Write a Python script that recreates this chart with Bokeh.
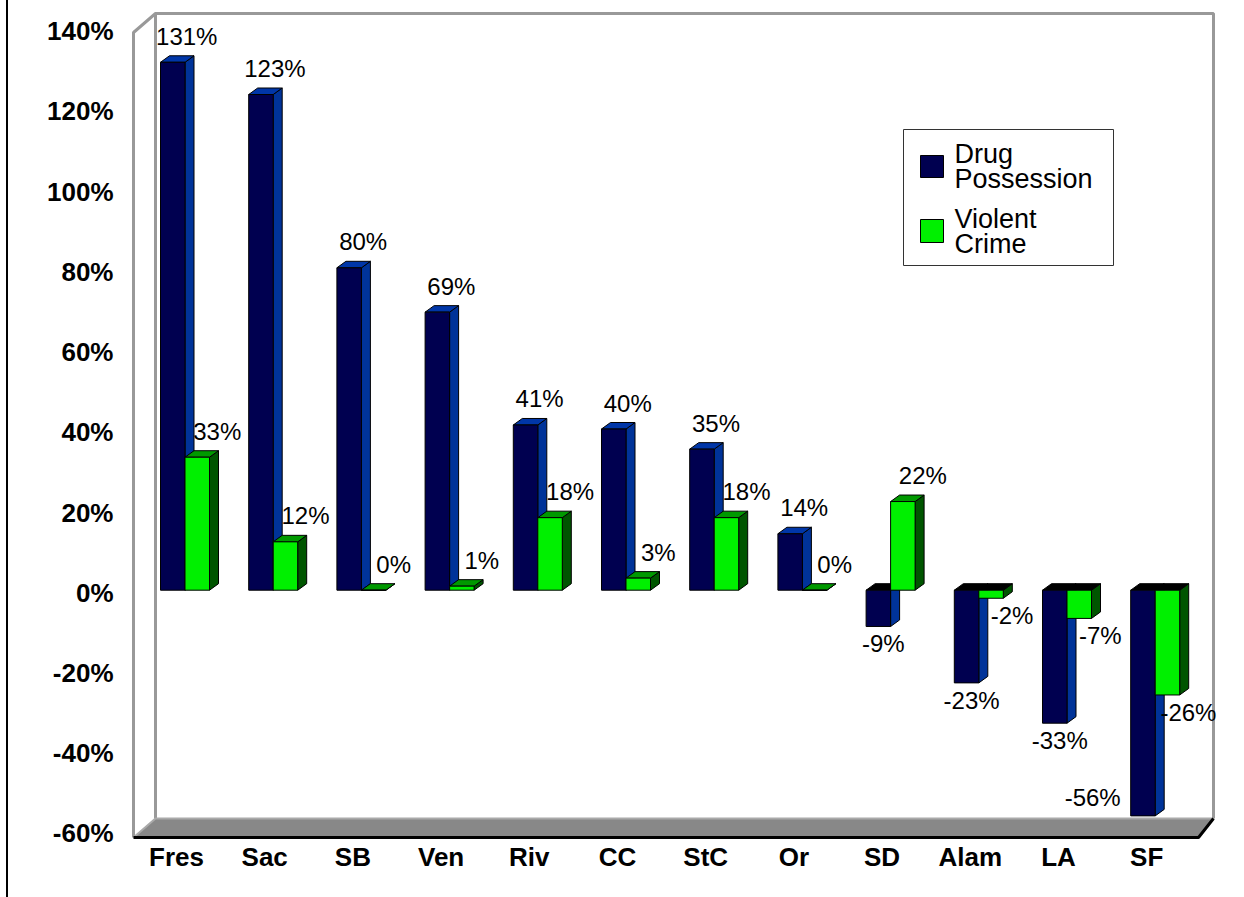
from bokeh.plotting import figure
from bokeh.models import (Range1d, LinearAxis, FixedTicker, ColumnDataSource,
                          PrintfTickFormatter)
from bokeh.core.properties import value
from bokeh.embed import file_html
from bokeh.resources import INLINE

# ---------------- data ----------------
categories = ["Fres", "Sac", "SB", "Ven", "Riv", "CC", "StC", "Or", "SD", "Alam", "LA", "SF"]
drug_possession = [131, 123, 80, 69, 41, 40, 35, 14, -9, -23, -33, -56]
violent_crime = [33, 12, 0, 1, 18, 3, 18, 0, 22, -2, -7, -26]
y_ticks = [-60, -40, -20, 0, 20, 40, 60, 80, 100, 120, 140]
series_labels = ["Drug\nPossession", "Violent\nCrime"]

# ---------------- layout (canvas pixels) ----------------
W, H = 1244, 897
FL, FR, FT, FB = 125, 1236, 5, 840          # frame edges
KX, X0 = 88.2, 176.0                        # px per category, px of first label
KY, Y0 = 4.03, 589.7                        # px per percent, px of 0% (bars)
KYL, Y0L = 4.0115, 592.3                    # tick-label plane


def X(px):
    return (px - X0) / KX


def Y(py):
    return (Y0 - py) / KY


FONT = "Liberation Sans"
NAVY, NAVY_SIDE, NAVY_TOP = "#000050", "#003399", "#0036a8"
GREEN, GREEN_SIDE, GREEN_TOP = "#00f000", "#005500", "#009900"

p = figure(width=W, height=H, output_backend="svg", toolbar_location=None,
           x_range=Range1d(X(FL), X(FR)), y_range=Range1d(Y(FB), Y(FT)),
           min_border_left=FL, min_border_right=W - FR,
           min_border_top=FT, min_border_bottom=H - FB,
           y_axis_location=None)
p.outline_line_color = None
p.grid.grid_line_color = None
p.background_fill_color = "white"
p.border_fill_alpha = 0
# chart-area left border line (drawn behind the transparent border area)
p.styles = {"background-color": "white",
            "background-image": "linear-gradient(90deg, transparent 6px, #000 6px, #000 8px, transparent 8px)"}

# ---------------- axes ----------------
p.xaxis.ticker = FixedTicker(ticks=list(range(len(categories))))
p.xaxis.major_label_overrides = {i: c for i, c in enumerate(categories)}
p.xaxis.axis_line_color = None
p.xaxis.major_tick_line_color = None
p.xaxis.minor_tick_line_color = None
p.xaxis.major_label_text_font = FONT
p.xaxis.major_label_text_font_style = "bold"
p.xaxis.major_label_text_font_size = "26px"
p.xaxis.major_label_text_color = "black"
p.xaxis.major_label_standoff = -5

p.extra_y_ranges = {"lab": Range1d(-(FB - Y0L) / KYL, (Y0L - FT) / KYL)}
yax = LinearAxis(y_range_name="lab", ticker=FixedTicker(ticks=y_ticks),
                 formatter=PrintfTickFormatter(format="%d%%"))
yax.axis_line_color = None
yax.major_tick_line_color = None
yax.minor_tick_line_color = None
yax.major_label_text_font = FONT
yax.major_label_text_font_style = "bold"
yax.major_label_text_font_size = "26px"
yax.major_label_text_color = "black"
yax.major_label_standoff = 6
p.add_layout(yax, "left")

# ---------------- 3D box: walls and floor ----------------
WALL = "#999999"
p.patch([X(133), X(1198), X(1213), X(155)], [Y(837), Y(837), Y(818), Y(818)],
        fill_color="#888888", line_color=None)
p.line([X(133), X(133), X(155), X(1213), X(1213)],
       [Y(837), Y(32), Y(13), Y(13), Y(818)], line_color=WALL, line_width=3)
p.line([X(155), X(155)], [Y(13), Y(818)], line_color=WALL, line_width=3)
p.line([X(133), X(155), X(1213)], [Y(837), Y(818), Y(818)], line_color="#aaaaaa", line_width=2)
p.line([X(133), X(1198), X(1213)], [Y(837), Y(837), Y(818)], line_color="black", line_width=3)

# ---------------- bars ----------------
GAP = 8.5 / KX
BW = 24.5 / KX
DX = 9.0 / KX
DY = 6.5 / KY

series = [(drug_possession, -1, NAVY, NAVY_SIDE, NAVY_TOP, 14, 5),
          (violent_crime, 0, GREEN, GREEN_SIDE, GREEN_TOP, 20, 21)]
for k, (vals, side, cf, cs, ct, pos_dx, neg_dx) in enumerate(series):
    lefts, rights, tops, bots = [], [], [], []
    sxs, sys, txs, tys, tcol = [], [], [], [], []
    for j, v in enumerate(vals):
        c = j + GAP
        l = c - BW if side == -1 else c
        r = l + BW
        t, b = max(v, 0), min(v, 0)
        lefts.append(l); rights.append(r); tops.append(t); bots.append(b)
        sxs.append([r, r + DX, r + DX, r])
        sys.append([t, t + DY, b + DY, b])
        txs.append([l, r, r + DX, l + DX])
        tys.append([t, t, t + DY, t + DY])
        tcol.append(ct if v >= 0 else "black")
    p.patches(sxs, sys, fill_color=cs, line_color="black", line_width=1)
    p.patches(txs, tys, fill_color=tcol, line_color="black", line_width=1)
    p.quad(left=lefts, right=rights, top=tops, bottom=bots,
           fill_color=cf, line_color="black", line_width=1)

    pos = ColumnDataSource(dict(
        x=[(lefts[j] + rights[j]) / 2 for j, v in enumerate(vals) if v >= 0],
        y=[v for v in vals if v >= 0],
        t=[f"{v}%" for v in vals if v >= 0]))
    neg = ColumnDataSource(dict(
        x=[(lefts[j] + rights[j]) / 2 for j, v in enumerate(vals) if -50 <= v < 0],
        y=[v for v in vals if -50 <= v < 0],
        t=[f"{v}%" for v in vals if -50 <= v < 0]))
    low = ColumnDataSource(dict(
        x=[lefts[j] for j, v in enumerate(vals) if v < -50],
        y=[v for v in vals if v < -50],
        t=[f"{v}%" for v in vals if v < -50]))
    common = dict(text_font=value(FONT), text_font_size="24px", text_color="black")
    p.text(x="x", y="y", text="t", source=pos, text_align="center",
           text_baseline="alphabetic", x_offset=pos_dx, y_offset=-26, **common)
    p.text(x="x", y="y", text="t", source=neg, text_align="center",
           text_baseline="top", x_offset=neg_dx, y_offset=4, **common)
    p.text(x="x", y="y", text="t", source=low, text_align="right",
           text_baseline="middle", x_offset=-10, y_offset=-18, **common)

# ---------------- legend (drawn in the plot, Excel style) ----------------
p.quad(left=[X(903)], right=[X(1113)], top=[Y(129)], bottom=[Y(265)],
       fill_color="white", line_color="#333333", line_width=1)
sw_top = [Y(155), Y(219)]
sw_bot = [Y(177), Y(242)]
p.quad(left=[X(920)] * 2, right=[X(943)] * 2, top=sw_top, bottom=sw_bot,
       fill_color=[NAVY, GREEN], line_color="black", line_width=1)
p.text(x=[X(954)] * 2, y=[Y(166), Y(231)], text=series_labels,
       text_font=value(FONT), text_font_size="27px", text_color="black",
       text_align="left", text_baseline="middle", text_line_height=0.85)

open("out.html", "w").write(file_html(p, INLINE))
